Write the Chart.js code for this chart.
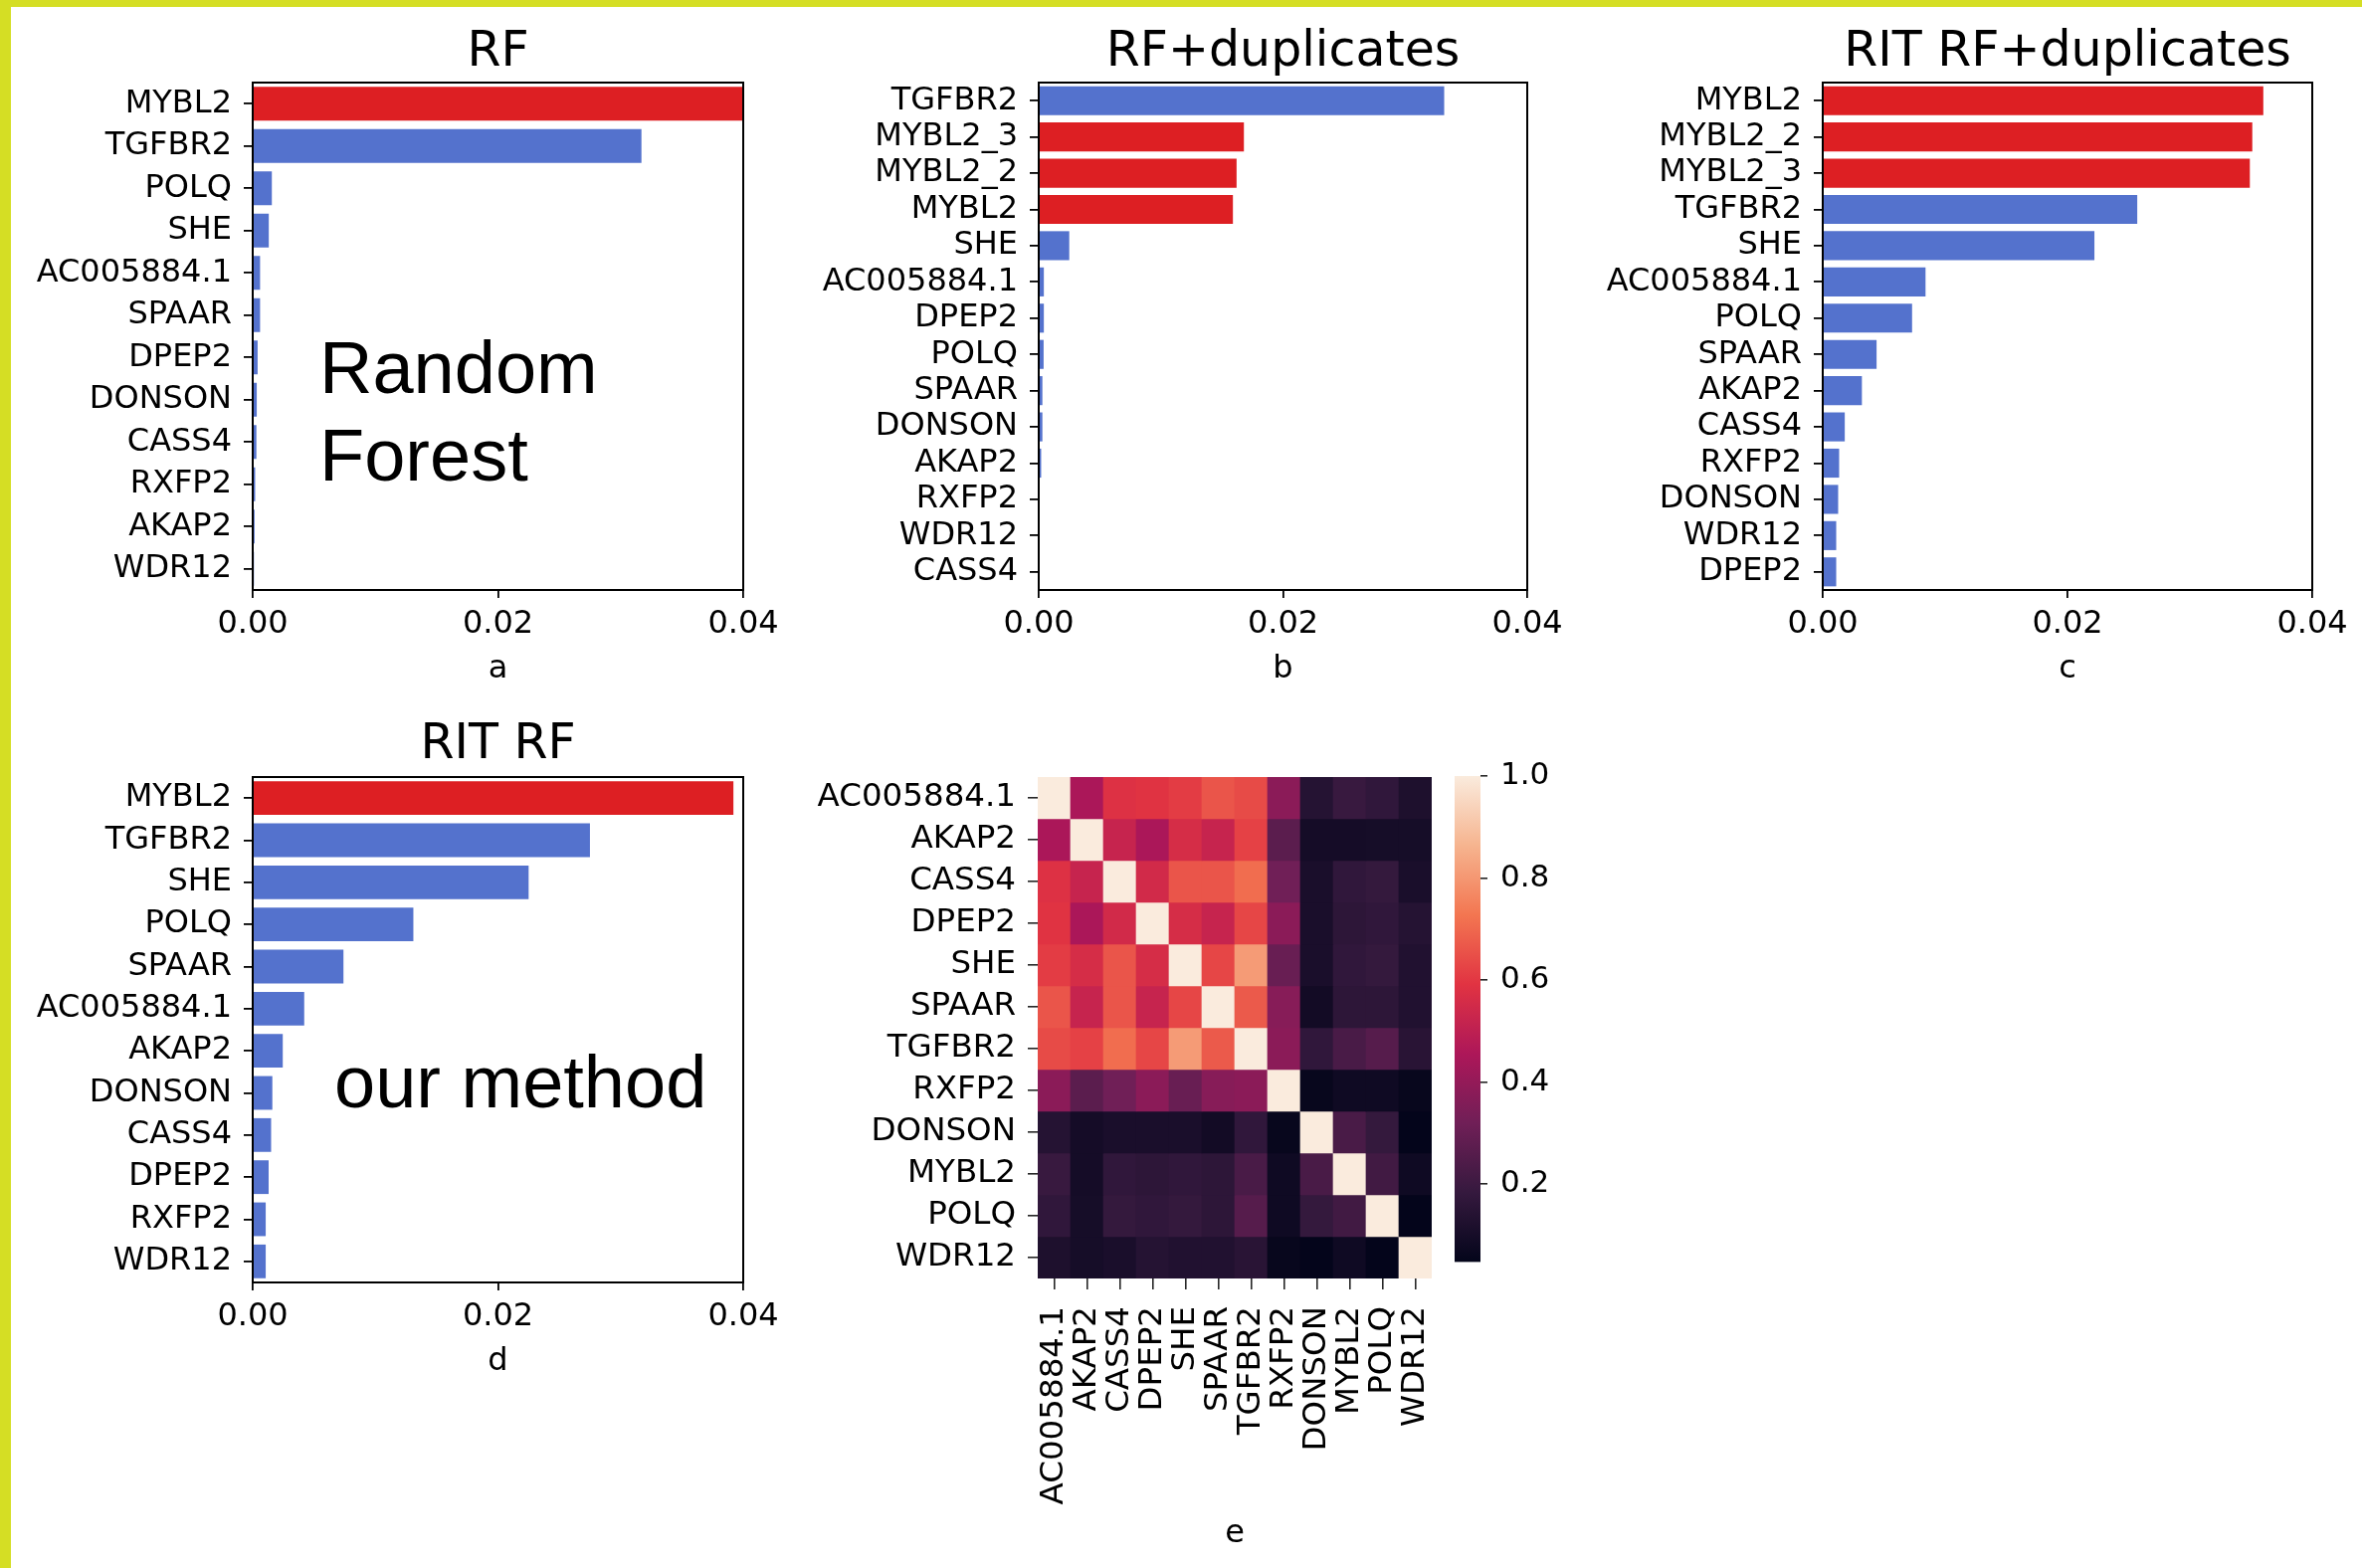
<!DOCTYPE html>
<html>
<head>
<meta charset="utf-8">
<script src="https://cdn.jsdelivr.net/npm/chart.js@4.4.1/dist/chart.umd.min.js"></script>
<style>
html,body{margin:0;padding:0;background:#fff;overflow:hidden;}
#page{position:relative;width:2374px;height:1576px;background:#fff;}
#frame{position:absolute;left:0;top:0;width:2374px;height:1576px;box-sizing:border-box;border-left:11px solid #D5DE24;border-top:7px solid #D5DE24;}
canvas{position:absolute;}
.note{position:absolute;z-index:5;font-family:"Liberation Sans",Arial,sans-serif;font-size:74px;line-height:88px;color:#000;white-space:nowrap;}
</style>
</head>
<body>
<div id="page">
  <div id="frame"></div>
  <canvas id="ca" width="800" height="692" style="left:0px;top:0px"></canvas>
  <canvas id="cb" width="800" height="692" style="left:800px;top:0px"></canvas>
  <canvas id="cc" width="774" height="692" style="left:1600px;top:0px"></canvas>
  <canvas id="cd" width="800" height="688" style="left:0px;top:700px"></canvas>
  <canvas id="ce" width="700" height="836" style="left:800px;top:740px"></canvas>
  <canvas id="cbar" width="140" height="560" style="left:1440px;top:740px"></canvas>
  <div class="note" style="left:321px;top:326px">Random<br>Forest</div>
  <div class="note" style="left:336px;top:1044px">our method</div>
</div>
<script>
// ---------------- data ----------------
const xTicks = [0, 0.02, 0.04];

const rfLabels = ['MYBL2','TGFBR2','POLQ','SHE','AC005884.1','SPAAR','DPEP2','DONSON','CASS4','RXFP2','AKAP2','WDR12'];
const rfValues = [0.0400, 0.0317, 0.00156, 0.00131, 0.0006, 0.0006, 0.0004, 0.00033, 0.0003, 0.0002, 0.00015, 0.0001];

const rfDupLabels = ['TGFBR2','MYBL2_3','MYBL2_2','MYBL2','SHE','AC005884.1','DPEP2','POLQ','SPAAR','DONSON','AKAP2','RXFP2','WDR12','CASS4'];
const rfDupValues = [0.0332, 0.0168, 0.0162, 0.0159, 0.0025, 0.00042, 0.00042, 0.0004, 0.0003, 0.0003, 0.0002, 0.00008, 0.00005, 0.00002];

const ritDupLabels = ['MYBL2','MYBL2_2','MYBL2_3','TGFBR2','SHE','AC005884.1','POLQ','SPAAR','AKAP2','CASS4','RXFP2','DONSON','WDR12','DPEP2'];
const ritDupValues = [0.0360, 0.0351, 0.0349, 0.0257, 0.0222, 0.0084, 0.0073, 0.0044, 0.0032, 0.0018, 0.00134, 0.00126, 0.0011, 0.0011];

const ritLabels = ['MYBL2','TGFBR2','SHE','POLQ','SPAAR','AC005884.1','AKAP2','DONSON','CASS4','DPEP2','RXFP2','WDR12'];
const ritValues = [0.0392, 0.0275, 0.0225, 0.0131, 0.0074, 0.0042, 0.00245, 0.0016, 0.0015, 0.0013, 0.00106, 0.00106];

const heatLabels = ['AC005884.1','AKAP2','CASS4','DPEP2','SHE','SPAAR','TGFBR2','RXFP2','DONSON','MYBL2','POLQ','WDR12'];
const corr = [
  [1.00, 0.45, 0.58, 0.59, 0.61, 0.66, 0.64, 0.38, 0.14, 0.19, 0.17, 0.12],
  [0.45, 1.00, 0.52, 0.45, 0.56, 0.52, 0.62, 0.27, 0.095,0.095,0.10, 0.10],
  [0.58, 0.52, 1.00, 0.55, 0.66, 0.66, 0.71, 0.32, 0.11, 0.17, 0.18, 0.11],
  [0.59, 0.45, 0.55, 1.00, 0.56, 0.52, 0.63, 0.38, 0.11, 0.16, 0.17, 0.14],
  [0.61, 0.56, 0.66, 0.56, 1.00, 0.63, 0.81, 0.30, 0.11, 0.17, 0.18, 0.13],
  [0.66, 0.52, 0.66, 0.52, 0.63, 1.00, 0.67, 0.37, 0.09, 0.16, 0.16, 0.13],
  [0.64, 0.62, 0.71, 0.63, 0.81, 0.67, 1.00, 0.38, 0.17, 0.23, 0.26, 0.15],
  [0.38, 0.27, 0.32, 0.38, 0.30, 0.37, 0.38, 1.00, 0.06, 0.08, 0.08, 0.06],
  [0.14, 0.095,0.11, 0.11, 0.11, 0.09, 0.17, 0.06, 1.00, 0.23, 0.18, 0.05],
  [0.19, 0.095,0.17, 0.16, 0.17, 0.16, 0.23, 0.08, 0.23, 1.00, 0.21, 0.08],
  [0.17, 0.10, 0.18, 0.17, 0.18, 0.16, 0.26, 0.08, 0.18, 0.21, 1.00, 0.05],
  [0.12, 0.10, 0.11, 0.14, 0.13, 0.13, 0.15, 0.06, 0.05, 0.08, 0.05, 1.00]
];
const colorMin = 0.047, colorMax = 1.0;
const cbarTicks = [0.2, 0.4, 0.6, 0.8, 1.0];

// ---------------- styles ----------------
Chart.defaults.font.family = 'DejaVu Sans';
Chart.defaults.color = '#000';
const RED = 'rgb(221,31,35)', BLUE = 'rgb(84,114,205)';
const TICK_FONT = 32;
const rocketStops = [[0,[3,5,26]],[1/7,[53,25,62]],[2/7,[112,31,87]],[3/7,[173,23,89]],[4/7,[225,51,66]],[5/7,[243,118,81]],[6/7,[246,180,143]],[1,[250,235,221]]];
function rocketT(t){
  t = Math.max(0, Math.min(1, t));
  for (let i = 1; i < rocketStops.length; i++) {
    const [t1, c1] = rocketStops[i];
    if (t <= t1) {
      const [t0, c0] = rocketStops[i-1];
      const f = (t - t0) / (t1 - t0);
      return 'rgb(' + c0.map((c, k) => Math.round(c + (c1[k] - c) * f)).join(',') + ')';
    }
  }
  return 'rgb(250,235,221)';
}
function rocket(v){ return rocketT((v - colorMin) / (colorMax - colorMin)); }

const framePlugin = {
  id: 'frame',
  afterDatasetsDraw(chart){
    const {ctx, chartArea: a} = chart;
    ctx.save();
    ctx.strokeStyle = '#000';
    ctx.lineWidth = 2;
    ctx.strokeRect(a.left, a.top, a.right - a.left, a.bottom - a.top);
    ctx.restore();
  }
};

function barPanel(id, title, xlab, labels, values, g){
  new Chart(document.getElementById(id), {
    type: 'bar',
    data: {
      labels: labels,
      datasets: [{
        data: values,
        backgroundColor: labels.map(l => l.startsWith('MYBL2') ? RED : BLUE),
        barPercentage: 0.8,
        categoryPercentage: 1,
        borderWidth: 0
      }]
    },
    options: {
      indexAxis: 'y',
      responsive: false,
      animation: false,
      devicePixelRatio: 1,
      layout: {padding: {left: 0, right: g.pr, top: 0, bottom: 0}},
      plugins: {
        legend: {display: false},
        tooltip: {enabled: false},
        title: {display: true, text: title, fullSize: false, color: '#000',
                font: {size: 49, lineHeight: 1.2, weight: 'normal'},
                padding: {top: g.tt, bottom: g.tb}}
      },
      scales: {
        x: {
          type: 'linear',
          min: xTicks[0], max: xTicks[xTicks.length - 1],
          afterBuildTicks: s => { s.ticks = xTicks.map(v => ({value: v})); },
          ticks: {callback: v => Number(v).toFixed(2), font: {size: TICK_FONT}, padding: 7, color: '#000', maxRotation: 0, autoSkip: false},
          grid: {drawOnChartArea: false, drawTicks: true, tickLength: 8, color: '#000', lineWidth: 1.8},
          border: {display: false},
          title: {display: true, text: xlab, color: '#000', font: {size: TICK_FONT}, padding: {top: 0, bottom: 0}},
          afterFit: s => { s.height = 99; }
        },
        y: {
          type: 'category',
          ticks: {font: {size: TICK_FONT}, padding: 12, color: '#000', autoSkip: false},
          grid: {offset: false, drawOnChartArea: false, drawTicks: true, tickLength: 9, color: '#000', lineWidth: 1.8},
          border: {display: false},
          afterFit: s => { s.width = g.yw; }
        }
      }
    },
    plugins: [framePlugin]
  });
}

barPanel('ca', 'RF', 'a', rfLabels, rfValues, {yw: 254, pr: 53, tt: 23.6, tb: 0.6});
barPanel('cb', 'RF+duplicates', 'b', rfDupLabels, rfDupValues, {yw: 244, pr: 65, tt: 23.6, tb: 0.6});
barPanel('cc', 'RIT RF+duplicates', 'c', ritDupLabels, ritDupValues, {yw: 232, pr: 50, tt: 23.6, tb: 0.6});
barPanel('cd', 'RIT RF', 'd', ritLabels, ritValues, {yw: 254, pr: 53, tt: 19.6, tb: 2.6});

// ---------------- heatmap ----------------
new Chart(document.getElementById('ce'), {
  type: 'bar',
  data: {
    labels: heatLabels,
    datasets: corr.map((row, r) => ({
      data: row.map(() => [r, r + 1]),
      backgroundColor: row.map(v => rocket(v)),
      grouped: false,
      barPercentage: 1,
      categoryPercentage: 1,
      borderWidth: 0
    }))
  },
  options: {
    responsive: false,
    animation: false,
    devicePixelRatio: 1,
    layout: {padding: {left: 0, right: 61, top: 41, bottom: 0}},
    plugins: {legend: {display: false}, tooltip: {enabled: false}},
    scales: {
      x: {
        type: 'category',
        ticks: {minRotation: 90, maxRotation: 90, font: {size: 32.5}, padding: 17, color: '#000', autoSkip: false},
        grid: {offset: false, drawOnChartArea: false, drawTicks: true, tickLength: 11, color: '#262626', lineWidth: 1.6},
        border: {display: false},
        title: {display: true, text: 'e', color: '#000', font: {size: TICK_FONT}, padding: {top: 0, bottom: 15}},
        afterFit: s => { s.height = 291; }
      },
      y: {
        type: 'linear',
        reverse: true,
        min: 0, max: heatLabels.length,
        afterBuildTicks: s => { s.ticks = heatLabels.map((_, i) => ({value: i + 0.5})); },
        ticks: {callback: (v, i) => heatLabels[i], font: {size: 32.5}, padding: 12, color: '#000', autoSkip: false},
        grid: {drawOnChartArea: false, drawTicks: true, tickLength: 10, color: '#262626', lineWidth: 1.6},
        border: {display: false},
        afterFit: s => { s.width = 243; }
      }
    }
  }
});

// ---------------- colorbar ----------------
new Chart(document.getElementById('cbar'), {
  type: 'bar',
  data: {
    labels: [''],
    datasets: [{
      data: [[colorMin, colorMax]],
      backgroundColor: c => {
        const a = c.chart.chartArea;
        if (!a) return rocket(colorMin);
        const grad = c.chart.ctx.createLinearGradient(0, a.bottom, 0, a.top);
        rocketStops.forEach(([t]) => grad.addColorStop(t, rocketT(t)));
        return grad;
      },
      barPercentage: 1,
      categoryPercentage: 1,
      borderWidth: 0
    }]
  },
  options: {
    responsive: false,
    animation: false,
    devicePixelRatio: 1,
    layout: {padding: {left: 22, right: 0, top: 40, bottom: 12}},
    plugins: {legend: {display: false}, tooltip: {enabled: false}},
    scales: {
      x: {display: false},
      y: {
        type: 'linear',
        position: 'right',
        min: colorMin, max: colorMax,
        afterBuildTicks: s => { s.ticks = cbarTicks.map(v => ({value: v})); },
        ticks: {callback: v => Number(v).toFixed(1), font: {size: 31}, padding: 13, color: '#000', autoSkip: false},
        grid: {drawOnChartArea: false, drawTicks: true, tickLength: 7, color: '#262626', lineWidth: 1.6},
        border: {display: false},
        afterFit: s => { s.width = 92; }
      }
    }
  }
});
</script>
</body>
</html>
